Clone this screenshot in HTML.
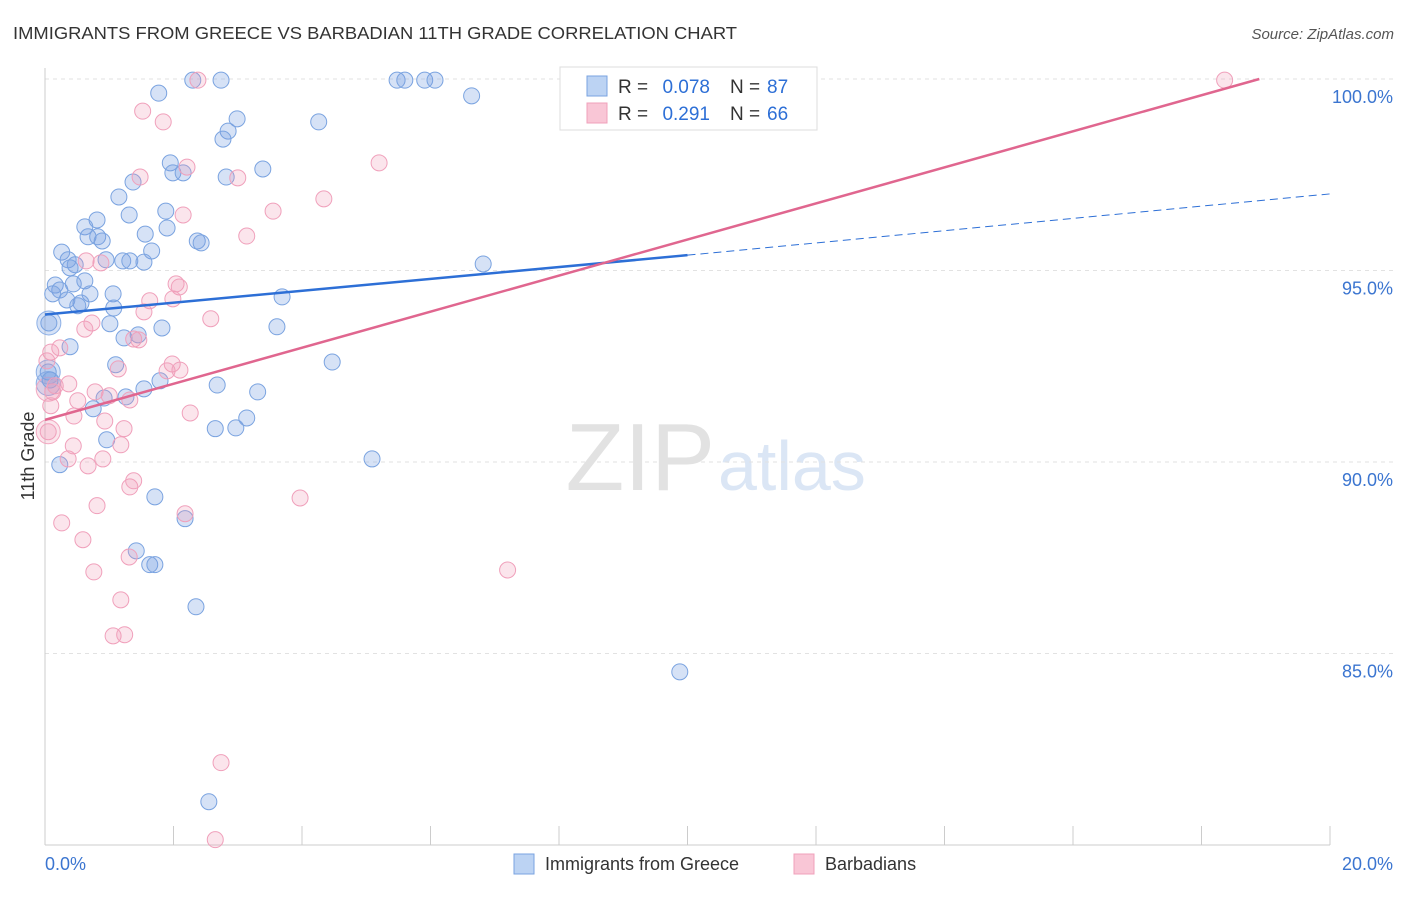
<!DOCTYPE html>
<html><head><meta charset="utf-8"><style>
body{margin:0;background:#fff;font-family:"Liberation Sans",sans-serif;}
svg text{font-family:"Liberation Sans",sans-serif;}
</style></head><body>
<svg id="chart" width="1406" height="892" xmlns="http://www.w3.org/2000/svg">
<text x="13" y="39" font-size="17.5" fill="#333" textLength="724" lengthAdjust="spacingAndGlyphs">IMMIGRANTS FROM GREECE VS BARBADIAN 11TH GRADE CORRELATION CHART</text>
<text x="1394" y="39" font-size="15" fill="#555" text-anchor="end" font-style="italic">Source: ZipAtlas.com</text>
<text x="715" y="490" font-size="96" text-anchor="end" fill="#e2e2e2" font-family="Liberation Serif">ZIP</text>
<text x="718" y="490" font-size="70" fill="#dbe6f5">atlas</text>
<text transform="translate(34,456) rotate(-90)" font-size="18" fill="#333" text-anchor="middle">11th Grade</text>
<g id="grid"></g><g id="axes"></g><g id="pts"></g><g id="lines"></g>
<g>
<rect x="560" y="67" width="257" height="63" fill="#fff" stroke="#ddd"/>
<rect x="587" y="76" width="20" height="20" fill="#bcd3f3" stroke="#7aa3e0"/>
<rect x="587" y="103" width="20" height="20" fill="#f9c6d6" stroke="#f0a0bb"/>
<text x="618" y="93" font-size="19" fill="#333">R =</text>
<text x="710" y="93" font-size="19" fill="#2d6fd6" text-anchor="end">0.078</text>
<text x="730" y="93" font-size="19" fill="#333">N =</text>
<text x="767" y="93" font-size="19" fill="#2d6fd6">87</text>
<text x="618" y="120" font-size="19" fill="#333">R =</text>
<text x="710" y="120" font-size="19" fill="#2d6fd6" text-anchor="end">0.291</text>
<text x="730" y="120" font-size="19" fill="#333">N =</text>
<text x="767" y="120" font-size="19" fill="#2d6fd6">66</text>
</g>
<g>
<rect x="514" y="854" width="20" height="20" fill="#bcd3f3" stroke="#7aa3e0"/>
<text x="545" y="870" font-size="18" fill="#333">Immigrants from Greece</text>
<rect x="794" y="854" width="20" height="20" fill="#f9c6d6" stroke="#f0a0bb"/>
<text x="825" y="870" font-size="18" fill="#333">Barbadians</text>
</g>
</svg>
<script>
const blueX=[1.77,2.30,2.74,5.48,5.60,5.91,6.07,6.64,4.26,2.99,2.85,2.77,1.95,1.99,2.15,2.82,3.39,1.37,1.15,1.88,1.31,0.81,0.62,1.90,1.56,0.67,0.82,0.89,0.26,1.66,2.37,2.43,0.36,1.21,1.32,0.95,1.54,0.47,0.39,6.82,0.16,0.23,0.44,0.62,0.12,0.70,1.06,0.34,0.56,0.51,1.07,3.69,0.06,1.01,1.82,3.61,1.45,1.23,0.39,4.47,1.10,0.05,0.08,1.79,2.68,3.31,1.54,0.92,1.26,0.75,3.14,2.97,2.65,0.96,0.23,5.09,1.71,2.18,1.42,1.63,1.71,2.35,9.88,2.55];
const blueY=[99.63,99.97,99.97,99.97,99.97,99.97,99.97,99.56,98.88,98.96,98.64,98.43,97.81,97.55,97.55,97.44,97.65,97.31,96.92,96.55,96.45,96.32,96.14,96.11,95.95,95.88,95.88,95.77,95.48,95.51,95.77,95.72,95.28,95.25,95.25,95.28,95.22,95.15,95.07,95.17,94.62,94.49,94.65,94.73,94.39,94.39,94.39,94.23,94.15,94.08,94.02,94.31,93.63,93.61,93.50,93.53,93.32,93.24,93.01,92.61,92.54,92.35,92.14,92.12,92.01,91.83,91.91,91.67,91.70,91.39,91.15,90.89,90.87,90.58,89.93,90.08,89.09,88.52,87.68,87.32,87.32,86.22,84.52,81.13];
const pinkX=[2.38,18.36,1.52,1.84,5.20,2.21,1.48,3.00,3.55,4.34,2.15,3.14,0.64,0.87,2.04,2.09,1.99,1.63,1.54,2.58,0.73,0.62,1.38,1.46,0.23,0.09,0.03,1.98,1.90,2.10,0.37,0.16,1.14,0.12,0.78,1.00,0.51,1.32,0.09,0.45,2.26,0.93,1.23,0.05,0.44,1.18,0.36,0.90,0.67,3.97,1.32,1.38,0.81,2.18,0.26,0.59,1.31,0.76,7.20,1.18,1.06,1.24,2.74,2.65];
const pinkY=[99.97,99.97,99.16,98.88,97.81,97.70,97.44,97.42,96.55,96.87,96.45,95.90,95.25,95.20,94.65,94.57,94.26,94.21,93.92,93.74,93.63,93.47,93.21,93.19,92.98,92.87,92.64,92.56,92.38,92.40,92.04,91.99,92.43,91.83,91.83,91.73,91.60,91.62,91.47,91.20,91.28,91.07,90.87,90.79,90.42,90.45,90.08,90.08,89.90,89.06,89.35,89.51,88.86,88.65,88.41,87.97,87.52,87.13,87.18,86.40,85.46,85.49,82.15,80.14];
const bigBlueX=[0.05,0.05,0.06];const bigBlueY=[92.35,92.05,93.63];
const bigPinkX=[0.05,0.05];const bigPinkY=[90.79,91.9];
const yTicks=[100,95,90,85];
const yTickLabels=["100.0%","95.0%","90.0%","85.0%"];
const xTicks=[0,2,4,6,8,10,12,14,16,18,20];
const blueTrendX=[0,10,20];const blueTrendY=[93.85,95.4,97.0];
const pinkTrendX=[0,18.9];const pinkTrendY=[91.1,100];
const NS="http://www.w3.org/2000/svg";
const sx=v=>45+v/20*1285, sy=v=>79+(100-v)*38.3;
function mk(t,a,p){const e=document.createElementNS(NS,t);for(const k in a)e.setAttribute(k,a[k]);p.appendChild(e);return e;}
const grid=document.getElementById('grid'),axes=document.getElementById('axes'),pts=document.getElementById('pts'),lines=document.getElementById('lines');
yTicks.forEach((v,i)=>{
 const l=mk('line',{x1:45,x2:1393,y1:sy(v),y2:sy(v),stroke:'#e2e2e2','stroke-dasharray':'4,4'},grid);
 
 
 const t=mk('text',{x:1393,y:sy(v)+24,'font-size':18,fill:'#3b75d0','text-anchor':'end'},axes);
 t.textContent=yTickLabels[i];
 
 
});
const ax=mk('line',{x1:45,x2:1330,y1:845,y2:845,stroke:'#ccc'},axes);


const ay=mk('line',{x1:45,x2:45,y1:68,y2:845,stroke:'#ccc'},axes);


xTicks.forEach(v=>{const t=mk('line',{x1:sx(v),x2:sx(v),y1:826,y2:845,stroke:'#ccc'},axes);
 
 });
const xl0=mk('text',{x:45,y:870,'font-size':18,fill:'#3b75d0'},axes);xl0.textContent='0.0%';


const xl1=mk('text',{x:1393,y:870,'font-size':18,fill:'#3b75d0','text-anchor':'end'},axes);xl1.textContent='20.0%';


function dots(X,Y,r,fill,stroke,name){X.forEach((x,i)=>{const c=mk('circle',{cx:sx(x),cy:sy(Y[i]),r:r,fill:fill,stroke:stroke,'stroke-width':1},pts);
 
 });}
dots(bigBlueX,bigBlueY,12,'rgba(120,160,225,0.3)','#8db0e6','greece-point');
dots(bigPinkX,bigPinkY,12,'rgba(240,150,180,0.25)','#f2a9c1','barbadian-point');
dots(blueX,blueY,8,'rgba(120,160,225,0.3)','#7aa3e0','greece-point');
dots(pinkX,pinkY,8,'rgba(240,150,180,0.25)','#f0a0bb','barbadian-point');
const bl=mk('line',{x1:sx(blueTrendX[0]),y1:sy(blueTrendY[0]),x2:sx(blueTrendX[1]),y2:sy(blueTrendY[1]),stroke:'#2d6fd6','stroke-width':2.5},lines);


const bd=mk('line',{x1:sx(blueTrendX[1]),y1:sy(blueTrendY[1]),x2:sx(blueTrendX[2]),y2:sy(blueTrendY[2]),stroke:'#2d6fd6','stroke-width':1,'stroke-dasharray':'8,5'},lines);


const pl=mk('line',{x1:sx(pinkTrendX[0]),y1:sy(pinkTrendY[0]),x2:sx(pinkTrendX[1]),y2:sy(pinkTrendY[1]),stroke:'#e0668f','stroke-width':2.5},lines);


</script>
</body></html>
